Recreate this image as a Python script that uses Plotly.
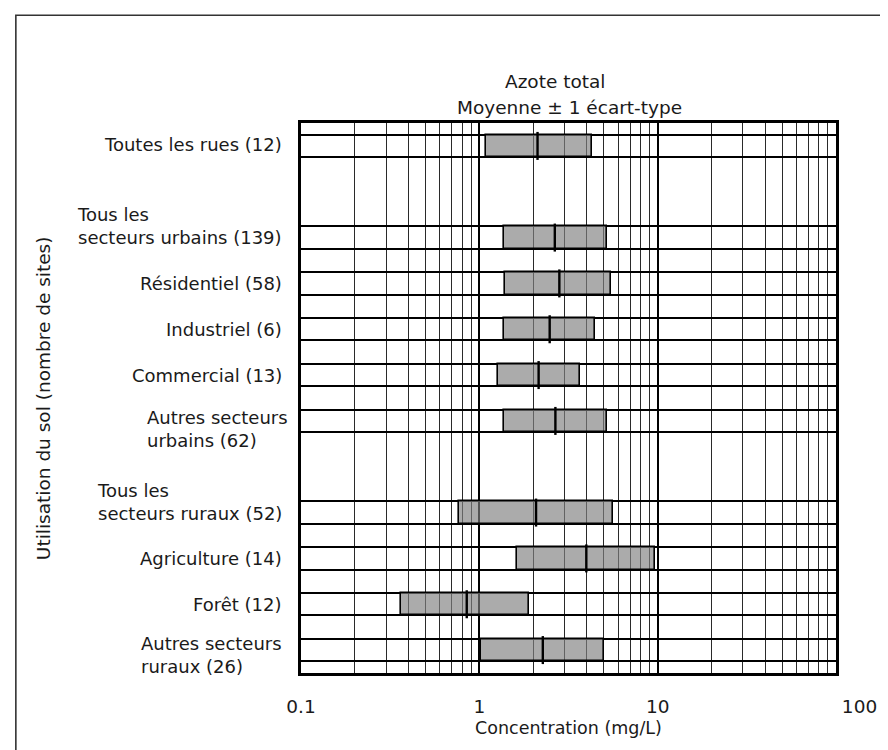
import plotly.graph_objects as go

# ---------------- data ----------------
categories = [
    "Toutes les rues (12)",
    "Tous les<br>secteurs urbains (139)",
    "Résidentiel (58)",
    "Industriel (6)",
    "Commercial (13)",
    "Autres secteurs<br>urbains (62)",
    "Tous les<br>secteurs ruraux (52)",
    "Agriculture (14)",
    "Forêt (12)",
    "Autres secteurs<br>ruraux (26)",
]
row_pos = [0, 2, 3, 4, 5, 6, 8, 9, 10, 11]
low = [1.09, 1.37, 1.40, 1.37, 1.28, 1.37, 0.77, 1.63, 0.365, 1.02]
mean = [2.12, 2.65, 2.81, 2.48, 2.15, 2.67, 2.08, 3.98, 0.85, 2.27]
high = [4.29, 5.17, 5.49, 4.46, 3.68, 5.19, 5.61, 9.69, 1.90, 4.99]

x_tick_vals = [0.1, 1, 10, 100]
x_tick_text = ["0.1", "1", "10", "\u00a0" * 8 + "100"]

title_line1 = "Azote total"
title_line2 = "Moyenne ± 1 écart-type"
x_title = "Concentration (mg/L)"
y_title = "Utilisation du sol (nombre de sites)"

# --------------- styling helpers ---------------
BAR_W = 0.49
FONT = "DejaVu Sans"
TXT = "#1a1a1a"
label_dy = [-0.03, -0.26, 0.0, 0.0, 0.0, 0.17, -0.24, 0.0, 0.0, 0.10]
label_dx = [0, 0, 0, 0, 0, 6, 0, 0, 0, 0]

minor_vals = [k * 10 ** e for e in (-1, 0, 1) for k in range(2, 10)]
edges = sorted([p - BAR_W / 2 for p in row_pos] + [p + BAR_W / 2 for p in row_pos])

fig = go.Figure()

fig.add_trace(go.Bar(
    orientation="h",
    y=row_pos,
    x=[h - l for h, l in zip(high, low)],
    base=low,
    width=BAR_W,
    marker=dict(color="rgba(128,128,128,0.66)", line=dict(color="black", width=1.6)),
    hoverinfo="skip",
))

fig.add_trace(go.Scatter(
    x=mean,
    y=row_pos,
    mode="markers",
    marker=dict(symbol="line-ns", size=20, color="black",
                line=dict(width=2.4, color="black")),
    hoverinfo="skip",
))

annotations = []
for cat, p, dy, dx in zip(categories, row_pos, label_dy, label_dx):
    annotations.append(dict(
        text=cat, x=-0.032, xref="paper", y=p + dy, yref="y",
        xanchor="right", yanchor="middle", align="left", xshift=dx,
        showarrow=False, font=dict(family=FONT, size=18, color=TXT),
    ))

annotations += [
    dict(text=title_line1, x=0.475, y=1.076, xref="paper", yref="paper",
         xanchor="center", yanchor="middle", showarrow=False,
         font=dict(family=FONT, size=18.5, color=TXT)),
    dict(text=title_line2, x=0.501, y=1.029, xref="paper", yref="paper",
         xanchor="center", yanchor="middle", showarrow=False,
         font=dict(family=FONT, size=18.5, color=TXT)),
    dict(text=y_title, x=-0.482, y=0.5, xref="paper", yref="paper",
         xanchor="center", yanchor="middle", textangle=-90, showarrow=False,
         font=dict(family=FONT, size=18.5, color=TXT)),
]

fig.update_layout(
    width=888, height=750,
    margin=dict(l=293, r=60, t=115, b=85),
    paper_bgcolor="white", plot_bgcolor="white",
    showlegend=False,
    font=dict(family=FONT, size=17.5, color=TXT),
    annotations=annotations,
    bargap=0,
    shapes=[dict(type="rect", xref="paper", yref="paper",
                 x0=-0.533, x1=1.3, y0=-0.4, y1=1.196,
                 line=dict(color="#333", width=1.6), layer="below")],
)

fig.update_xaxes(
    type="log", range=[-1, 2],
    tickmode="array", tickvals=x_tick_vals, ticktext=x_tick_text,
    tickfont=dict(family=FONT, size=18.5, color=TXT),
    ticks="", ticklabelstandoff=15,
    showgrid=True, gridcolor="black", gridwidth=2.2,
    minor=dict(tickmode="array", tickvals=minor_vals, showgrid=True,
               gridcolor="#2a2a2a", gridwidth=1.2, ticks=""),
    showline=True, mirror=True, linecolor="black", linewidth=2.6,
    zeroline=False,
    title=dict(text=x_title, standoff=6,
               font=dict(family=FONT, size=17.5, color=TXT)),
)

fig.update_yaxes(
    range=[11.5, -0.5],
    tickmode="array", tickvals=edges, showticklabels=False, ticks="",
    showgrid=True, gridcolor="black", gridwidth=1.6,
    showline=True, mirror=True, linecolor="black", linewidth=2.6,
    zeroline=False,
)

fig.write_html("out.html")
